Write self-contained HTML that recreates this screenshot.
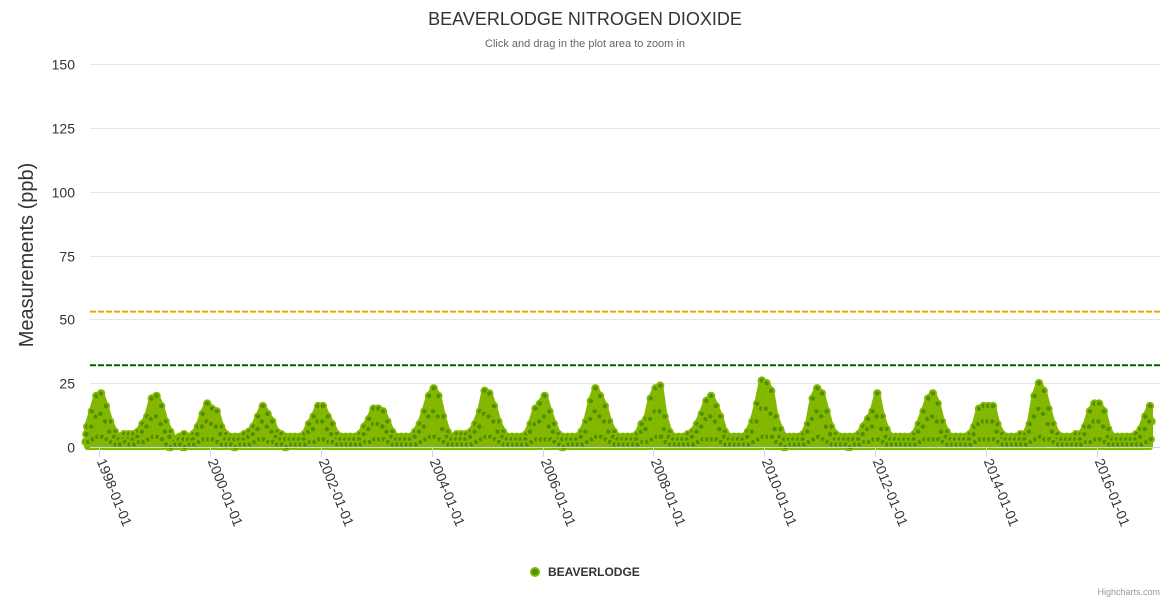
<!DOCTYPE html>
<html><head><meta charset="utf-8">
<style>
html,body{margin:0;padding:0;background:#fff;}
svg{display:block;font-family:"Liberation Sans",sans-serif;}
</style></head>
<body>
<svg id="chart" width="1170" height="600" viewBox="0 0 1170 600" xmlns="http://www.w3.org/2000/svg">
<rect x="0" y="0" width="1170" height="600" fill="#fff"/>
<text x="585" y="25" text-anchor="middle" font-size="18" fill="#333">BEAVERLODGE NITROGEN DIOXIDE</text>
<text x="585" y="47" text-anchor="middle" font-size="11" fill="#666">Click and drag in the plot area to zoom in</text>
<text transform="translate(33,255) rotate(-90)" text-anchor="middle" font-size="20" fill="#333">Measurements (ppb)</text>
<g id="grid"></g>
<g id="plot"></g>
<g id="xaxis"></g>
<g>
<circle cx="535" cy="572" r="4" fill="#4f8f00" stroke="#84b800" stroke-width="2"/>
<text x="548" y="576" font-size="12" font-weight="bold" fill="#333">BEAVERLODGE</text>
</g>
<text x="1160" y="595" text-anchor="end" font-size="9" fill="#999">Highcharts.com</text>
</svg>
<script>
const yTicks=[0,25,50,75,100,125,150];
const xTickYears=[1998,2000,2002,2004,2006,2008,2010,2012,2014,2016];
const startYear=1997, startMonth=9; // Oct 1997 (0-based month)
const thresholdHigh=53;
const thresholdLow=32;
const high=[
8,14,20,
21,16,10,6,4,5,5,5,6,9,12,19,
20,16,10,6,3,4,5,4,5,8,13,17,
15,14,8,5,4,4,4,5,6,8,12,16,
13,10,6,5,4,4,4,4,5,9,12,16,
16,12,9,5,4,4,4,4,5,8,11,15,
15,14,10,6,4,4,4,4,6,9,14,20,
23,20,12,6,4,5,5,5,6,9,14,22,
21,16,10,6,4,4,4,4,5,9,15,17,
20,14,9,5,4,4,4,4,6,10,18,23,
20,16,10,6,4,4,4,4,5,9,11,19,
23,24,12,6,4,4,4,5,6,9,13,18,
20,16,12,6,4,4,4,4,6,10,17,26,
25,22,12,7,4,4,4,4,5,9,19,23,
21,14,8,5,4,4,4,4,5,8,11,14,
21,12,7,4,4,4,4,4,5,9,14,19,
21,17,10,6,4,4,4,4,5,8,15,16,
16,16,9,5,4,4,4,5,5,9,20,25,
22,15,9,5,4,4,4,5,5,8,14,17,
17,14,7,4,4,4,4,4,5,7,12,16];
const mid=[
5,8,12,
13,10,6,4,3,3,3,3,4,6,8,11,
12,9,6,4,2,3,3,3,3,5,8,10,
9,8,5,3,3,3,3,3,4,5,7,10,
8,6,4,3,3,3,3,3,3,6,7,10,
10,7,5,3,3,3,3,3,3,5,7,9,
9,8,6,4,3,3,3,3,4,6,8,12,
14,12,7,4,3,3,3,3,4,6,8,13,
12,10,6,4,3,3,3,3,3,6,9,10,
12,8,6,3,3,3,3,3,4,6,11,14,
12,10,6,4,3,3,3,3,3,6,7,11,
14,14,7,4,3,3,3,3,4,6,8,11,
12,10,7,4,3,3,3,3,4,6,10,15,
15,13,7,4,3,3,3,3,3,6,11,14,
12,8,5,3,3,3,3,3,3,5,7,8,
12,7,4,3,3,3,3,3,3,6,8,11,
12,10,6,4,3,3,3,3,3,5,9,10,
10,10,6,3,3,3,3,3,3,6,12,15,
13,9,6,3,3,3,3,3,3,5,8,10,
10,8,4,3,3,3,3,3,3,4,7,10];
const low=[
2,3,4,
4,3,2,1,1,2,1,1,2,2,3,4,
4,3,1,0,1,1,0,1,1,2,3,3,
3,2,1,1,1,0,1,1,1,2,3,3,
2,2,1,1,0,1,1,1,1,2,2,3,
3,2,2,1,1,1,1,1,1,2,2,3,
3,3,2,1,1,1,1,1,1,2,3,4,
4,3,2,1,1,1,1,1,1,2,3,4,
4,3,2,1,1,1,1,1,1,2,3,3,
3,3,2,1,0,1,1,1,1,2,3,4,
4,3,2,1,1,1,1,1,1,2,2,3,
4,4,2,1,1,1,1,1,1,2,3,3,
3,3,2,1,1,1,1,1,1,2,3,4,
4,4,2,1,0,1,1,1,1,2,3,4,
3,2,1,1,1,1,0,1,1,2,2,3,
3,2,1,1,1,1,1,1,1,2,3,3,
3,3,2,1,1,1,1,1,1,2,3,3,
3,3,2,1,1,1,1,1,1,2,3,4,
3,3,2,1,1,1,1,1,1,2,2,3,
3,2,1,1,1,1,1,1,1,1,2,3];

const NS='http://www.w3.org/2000/svg';
const plotL=90, plotR=1160, plotT=64, plotB=447;
const t1998=Date.UTC(1998,0,1), t2016=Date.UTC(2016,0,1);
const x1998=99, x2016=1097;
function xScale(t){return x1998+(t-t1998)/(t2016-t1998)*(x2016-x1998);}
function yScale(v){return plotB-(v/150)*(plotB-plotT);}
function mk(tag,attrs,parent){const e=document.createElementNS(NS,tag);for(const k in attrs)e.setAttribute(k,attrs[k]);parent.appendChild(e);return e;}
const grid=document.getElementById('grid'), plot=document.getElementById('plot'), xaxis=document.getElementById('xaxis');

yTicks.forEach(v=>{
  const y=Math.round(yScale(v))+0.5;
  if(v>0){const l=mk('line',{x1:plotL,x2:plotR,y1:y,y2:y,stroke:'#e6e6e6','stroke-width':1},grid);
  
  }
  const t=mk('text',{x:75,y:y+5,'text-anchor':'end','font-size':14,fill:'#333'},grid);
  t.textContent=v;
  
  
});

function monthTime(i,day){const m=startMonth+i;return Date.UTC(startYear+Math.floor(m/12),m%12,day);}
let pts=[];
for(let i=0;i<high.length;i++)pts.push(xScale(monthTime(i,15)).toFixed(1)+','+yScale(high[i]).toFixed(1));
const poly=mk('polygon',{points:xScale(monthTime(0,15)).toFixed(1)+','+plotB+' '+pts.join(' ')+' '+xScale(monthTime(high.length-1,15)).toFixed(1)+','+plotB,fill:'#84b800',stroke:'#84b800','stroke-width':6,'stroke-linejoin':'round'},plot);



const series=[[low,5],[mid,25],[high,15],[mid,10],[low,20]];
series.forEach(([arr,day])=>{
  for(let i=0;i<arr.length;i++){
    const c=mk('circle',{cx:xScale(monthTime(i,day)).toFixed(1),cy:yScale(arr[i]).toFixed(1),r:3.2,fill:'#4f8f00',stroke:'#84b800','stroke-width':2},plot);
    
    
  }
});

[[thresholdHigh,'#f5a300','threshold-line-upper'],[thresholdLow,'#006400','threshold-line-lower']].forEach(([v,col,name])=>{
  const y=yScale(v);
  const l=mk('line',{x1:plotL,x2:plotR,y1:y,y2:y,stroke:col,'stroke-width':2,'stroke-dasharray':'6,2'},plot);
  
  
});

const ax=mk('line',{x1:plotL,x2:plotR,y1:plotB+0.5,y2:plotB+0.5,stroke:'#ccd6eb','stroke-width':1},xaxis);


xTickYears.forEach(yr=>{
  const x=Math.round(xScale(Date.UTC(yr,0,1)))+0.5;
  const tk=mk('line',{x1:x,x2:x,y1:plotB,y2:plotB+10,stroke:'#ccd6eb','stroke-width':1},xaxis);
  
  
  const t=mk('text',{transform:'translate('+(x-3)+','+(plotB+14)+') rotate(68)','font-size':14,fill:'#333'},xaxis);
  t.textContent=yr+'-01-01';
  
  
});
</script>
</body></html>
